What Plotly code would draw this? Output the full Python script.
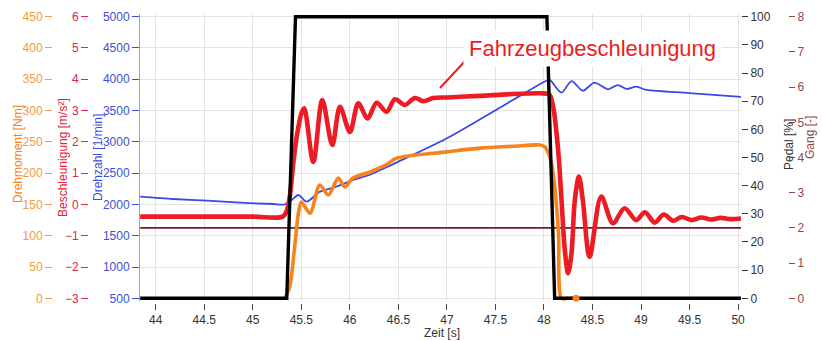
import plotly.graph_objects as go

W, H = 822, 341

# ---------------- data ----------------
t_pedal = [43.84, 45.35, 45.44, 48.03, 48.11, 50.03]
pedal = [0, 0, 100, 100, 0, 0]

t_gear = [43.84, 50.03]
gear = [2, 2]

t_speed = [43.84, 44.18, 44.53, 44.87, 45.21, 45.33, 45.40, 45.47, 45.555, 45.69,
           45.86, 46.03, 46.2, 46.31, 46.5, 47.0, 47.68, 48.03, 48.06, 48.18,
           48.284, 48.40, 48.52, 48.66, 48.76, 48.85, 48.95, 49.06, 49.5, 50.03]
speed = [2124, 2087, 2060, 2028, 2007, 2002, 2070, 2151, 2044, 2203,
         2283, 2390, 2470, 2547, 2683, 3057, 3669, 3980, 3990, 3786,
         3972, 3818, 3946, 3840, 3908, 3846, 3882, 3829, 3780, 3720]

t_acc = [43.84, 44.5, 45.0, 45.31, 45.35, 45.383, 45.42, 45.46, 45.50, 45.53,
         45.623, 45.716, 45.819, 45.898, 46.001, 46.087, 46.183, 46.276, 46.379, 46.464,
         46.567, 46.67, 46.76, 46.86, 47.0, 47.34, 47.68, 47.99, 48.03, 48.06,
         48.095, 48.146, 48.181, 48.215, 48.249, 48.284, 48.318, 48.36, 48.40, 48.47,
         48.59, 48.71, 48.83, 48.95, 49.04, 49.14, 49.235, 49.33, 49.42, 49.52,
         49.62, 49.72, 49.82, 49.92, 50.03]
acc = [-0.39, -0.39, -0.39, -0.39, -0.2, 0.3, 1.4, 2.3, 2.9, 3.07,
       1.36, 3.34, 1.9, 3.12, 2.32, 3.23, 2.75, 3.25, 2.96, 3.36,
       3.18, 3.4, 3.3, 3.4, 3.42, 3.47, 3.53, 3.55, 3.54, 3.5,
       3.12, 1.74, 0.14, -1.46, -2.2, -1.55, 0.14, 0.89, 0.14, -1.67,
       0.25, -0.6, -0.12, -0.5, -0.25, -0.58, -0.32, -0.52, -0.4, -0.5,
       -0.42, -0.48, -0.43, -0.47, -0.45]

t_torque = [45.33, 45.38, 45.435, 45.47, 45.50, 45.59, 45.69, 45.78, 45.88, 45.95,
            46.03, 46.21, 46.38, 46.48, 47.0, 47.34, 47.68, 47.96, 48.01, 48.06,
            48.09, 48.15, 48.18, 48.25, 48.33]
torque = [0, 18, 88, 136, 154, 136, 181, 165, 192, 178,
          192, 202, 214, 224, 234, 240, 243, 245, 242, 226,
          205, 104, 0, 0, 0]

time_ticks = [44, 44.5, 45, 45.5, 46, 46.5, 47, 47.5, 48, 48.5, 49, 49.5, 50]
speed_ticks = list(range(500, 5001, 500))
acc_ticks = list(range(-3, 7))
torque_ticks = list(range(0, 451, 50))
pedal_ticks = list(range(0, 101, 10))
gear_ticks = list(range(0, 9))

# ---------------- colours ----------------
C_RED = "#EC1C24"
C_ORANGE = "#F7821E"
C_BLUE = "#3A48E6"
C_GEAR = "#6E1C22"
C_TQ_TXT = "#F29A45"
C_ACC_TXT = "#E3243F"
C_SPD_TXT = "#3B4FD8"
C_GEAR_TXT = "#8E4A4E"
FONT = "Liberation Sans, Arial, sans-serif"

# ---------------- geometry (px) ----------------
PL, PR = 140, 741
PT, PB = 16.7, 298.3
EXT = 3.0
XR = [43.838, 50.03]


def ext_range(lo, hi):
    per = (hi - lo) / (PB - PT)
    return [lo - EXT * per, hi + EXT * per]


ydom = [1 - (PB + EXT) / H, 1 - (PT - EXT) / H]
xdom = [PL / W, PR / W]

fig = go.Figure()

# gear (main y, bottom layer)
fig.add_trace(go.Scatter(x=t_gear, y=gear, mode="lines", yaxis="y",
                         line=dict(color=C_GEAR, width=1.8), showlegend=False))
# speed
fig.add_trace(go.Scatter(x=t_speed, y=speed, mode="lines", yaxis="y2",
                         line=dict(color=C_BLUE, width=1.8, shape="spline", smoothing=0.8),
                         showlegend=False))
# torque
fig.add_trace(go.Scatter(x=t_torque, y=torque, mode="lines", yaxis="y3",
                         line=dict(color=C_ORANGE, width=3.6, shape="spline", smoothing=0.8),
                         showlegend=False))
# acceleration
fig.add_trace(go.Scatter(x=t_acc, y=acc, mode="lines", yaxis="y4",
                         line=dict(color=C_RED, width=4.6, shape="spline", smoothing=0.9),
                         showlegend=False))
# pedal
fig.add_trace(go.Scatter(x=t_pedal, y=pedal, mode="lines", yaxis="y5",
                         line=dict(color="black", width=3.4), showlegend=False))
# end point of the torque line, visible above the pedal line
fig.add_trace(go.Scatter(x=t_torque[-1:], y=torque[-1:], mode="markers", yaxis="y6",
                         marker=dict(size=7, color=C_ORANGE), cliponaxis=False,
                         showlegend=False))

tick_common = dict(ticks="outside", ticklen=7, tickwidth=1.4, showgrid=False,
                   zeroline=False, automargin=False, domain=ydom)

fig.update_layout(
    width=W, height=H, autosize=False,
    margin=dict(l=0, r=0, t=0, b=0),
    paper_bgcolor="white", plot_bgcolor="white",
    font=dict(family=FONT, size=12, color="#333"),
    xaxis=dict(domain=xdom, range=XR, tickvals=time_ticks,
               ticktext=[("%g" % v) for v in time_ticks],
               anchor="free", position=1 - 302.5 / H,
               ticks="outside", ticklen=6, tickwidth=1.4, tickcolor="#444",
               showline=False, showgrid=True, gridcolor="#E3E3E3", gridwidth=1,
               zeroline=False, automargin=False,
               tickfont=dict(size=12, color="#333")),
    # Gang (main axis, right free)
    yaxis=dict(range=ext_range(0, 8), tickvals=gear_ticks,
               side="right", anchor="free", position=788 / W,
               tickcolor=C_GEAR_TXT, tickfont=dict(size=12, color=C_GEAR_TXT),
               ticklen=6, **{k: v for k, v in tick_common.items() if k != "ticklen"}),
    # Drehzahl
    yaxis2=dict(range=ext_range(500, 5000), tickvals=speed_ticks, overlaying="y",
                side="left", anchor="x",
                tickcolor=C_SPD_TXT, tickfont=dict(size=12, color=C_SPD_TXT),
                showline=True, linecolor="#9AA3C8", linewidth=1,
                **{**tick_common, "showgrid": True}, gridcolor="#E3E3E3", gridwidth=1),
    # Drehmoment
    yaxis3=dict(range=ext_range(0, 450), tickvals=torque_ticks, overlaying="y",
                side="left", anchor="free", position=52 / W,
                tickcolor=C_TQ_TXT, tickfont=dict(size=12, color=C_TQ_TXT),
                **tick_common),
    # Beschleunigung
    yaxis4=dict(range=ext_range(-3, 6), tickvals=acc_ticks, overlaying="y",
                side="left", anchor="free", position=88 / W,
                tickcolor=C_ACC_TXT, tickfont=dict(size=12, color=C_ACC_TXT),
                **tick_common),
    # Pedal
    yaxis5=dict(range=ext_range(0, 100), tickvals=pedal_ticks, overlaying="y",
                side="right", anchor="x",
                tickcolor="#333", tickfont=dict(size=12, color="#333"),
                ticklen=6, **{k: v for k, v in tick_common.items() if k != "ticklen"}),
    # hidden copy of the torque scale (top layer for the end dot)
    yaxis6=dict(range=ext_range(0, 450), overlaying="y", visible=False,
                anchor="x", domain=ydom),
)


def vtitle(text, xpx, ypx, color):
    return dict(text=text, x=xpx / W, y=1 - ypx / H, xref="paper", yref="paper",
                showarrow=False, textangle=-90, xanchor="center", yanchor="middle",
                font=dict(family=FONT, size=12, color=color))


ann = [
    vtitle("Drehmoment [Nm]", 18, 154, C_ORANGE),
    vtitle("Beschleunigung [m/s²]", 63, 158, C_ACC_TXT),
    vtitle("Drehzahl [1/min]", 98, 158, C_SPD_TXT),
    vtitle("Pedal [%]", 789, 145, "#333"),
    vtitle("Gang [-]", 810, 138, C_GEAR_TXT),
    dict(text="Zeit [s]", x=441.7 / W, y=1 - 332.5 / H, xref="paper", yref="paper",
         showarrow=False, xanchor="center", yanchor="middle",
         font=dict(family=FONT, size=12, color="#333")),
    dict(text="Fahrzeugbeschleunigung", x=592.5 / W, y=1 - 48.5 / H,
         xref="paper", yref="paper", showarrow=False, xanchor="center", yanchor="middle",
         bgcolor="white", borderpad=5,
         font=dict(family=FONT, size=22, color=C_RED)),
]
fig.update_layout(annotations=ann)

fig.add_shape(type="line", xref="paper", yref="paper",
              x0=440 / W, y0=1 - 88 / H, x1=466 / W, y1=1 - 60 / H,
              line=dict(color=C_RED, width=2))

fig.write_html("out.html")
